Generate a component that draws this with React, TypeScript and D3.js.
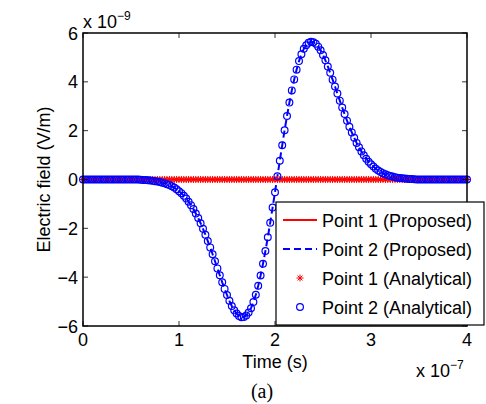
import React, { useEffect, useRef } from 'react';
import * as d3 from 'd3';

// time samples every 0.025 (x 1e-7 s), values in units of 1e-9 V/m
const timeStep = 0.025;
const xTicks = [0, 1, 2, 3, 4];
const yTicks = [-6, -4, -2, 0, 2, 4, 6];

const point2Values = [
  0, 0, 0, 0, 0, 0, 0, 0, 0, 0, 0, 0, 0, 0, 0, 0, 0, 0, 0, 0, 0, 0, 0, 0,
  -0.01, -0.02, -0.02, -0.03, -0.04, -0.05, -0.07, -0.08, -0.10, -0.13,
  -0.15, -0.19, -0.23, -0.28, -0.33, -0.40, -0.48, -0.56, -0.67, -0.78,
  -0.91, -1.05, -1.21, -1.39, -1.58, -1.79, -2.02, -2.26, -2.52, -2.78,
  -3.06, -3.35, -3.64, -3.92, -4.21, -4.48, -4.73, -4.97, -5.18, -5.36,
  -5.49, -5.59, -5.64, -5.63, -5.57, -5.45, -5.27, -5.02, -4.72, -4.35,
  -3.93, -3.45, -2.93, -2.37, -1.77, -1.15, -0.52, 0.13, 0.77, 1.40,
  2.02, 2.60, 3.15, 3.65, 4.10, 4.50, 4.85, 5.13, 5.35, 5.50,
  5.60, 5.64, 5.62, 5.56, 5.44, 5.29, 5.10, 4.88, 4.63, 4.37,
  4.09, 3.81, 3.52, 3.23, 2.95, 2.68, 2.41, 2.16, 1.93, 1.71,
  1.50, 1.32, 1.15, 0.99, 0.85, 0.73, 0.62, 0.53, 0.44, 0.37,
  0.31, 0.26, 0.21, 0.17, 0.14, 0.12, 0.09, 0.07, 0.06, 0.05,
  0.04, 0.03, 0.02, 0.02, 0.01,
  0, 0, 0, 0, 0, 0, 0, 0, 0, 0, 0, 0, 0, 0, 0, 0, 0, 0, 0, 0, 0, 0,
];

const point1Values = [
  0, 0, 0, 0, 0, 0, 0, 0, 0, 0, 0, 0, 0, 0, 0, 0, 0, 0, 0, 0, 0, 0, 0,
  0, 0, 0, 0, 0, 0, 0, 0, 0, 0, 0, 0, 0, 0, 0, 0, 0, 0, 0, 0, 0, 0, 0,
  0, 0, 0, 0, 0, 0, 0, 0, 0, 0, 0, 0, 0, 0, 0, 0, 0, 0, 0, 0, 0, 0, 0,
  0, 0, 0, 0, 0, 0, 0, 0, 0, 0, 0, 0, 0, 0, 0, 0, 0, 0, 0, 0, 0, 0, 0,
  0, 0, 0, 0, 0, 0, 0, 0, 0, 0, 0, 0, 0, 0, 0, 0, 0, 0, 0, 0, 0, 0, 0,
  0, 0, 0, 0, 0, 0, 0, 0, 0, 0, 0, 0, 0, 0, 0, 0, 0, 0, 0, 0, 0, 0, 0,
  0, 0, 0, 0, 0, 0, 0, 0, 0, 0, 0, 0, 0, 0, 0, 0, 0, 0, 0, 0, 0, 0, 0,
];

const legendLabels = ['Point 1 (Proposed)', 'Point 2 (Proposed)', 'Point 1 (Analytical)', 'Point 2 (Analytical)'];

const FONT = '"Liberation Sans", Arial, Helvetica, sans-serif';
const FS = 18;

export default function App() {
  const ref = useRef<SVGSVGElement>(null);

  useEffect(() => {
    const width = 486;
    const height = 404;
    const m = { left: 83, right: 19, top: 33, bottom: 78 };

    const svg = d3.select(ref.current)
      .attr('width', width)
      .attr('height', height);
    svg.selectAll('*').remove();

    const x = d3.scaleLinear().domain([0, 4]).range([m.left, width - m.right]);
    const y = d3.scaleLinear().domain([-6, 6]).range([height - m.bottom, m.top]);

    const p1 = point1Values.map((v, i) => [i * timeStep, v] as [number, number]);
    const p2 = point2Values.map((v, i) => [i * timeStep, v] as [number, number]);

    const line = d3.line<[number, number]>().x(d => x(d[0])).y(d => y(d[1]));

    const plot = svg.append('g');

    // proposed curves
    plot.append('path').datum(p1)
      .attr('d', line).attr('fill', 'none').attr('stroke', '#ff0000').attr('stroke-width', 2);
    plot.append('path').datum(p2)
      .attr('d', line).attr('fill', 'none').attr('stroke', '#0000ff').attr('stroke-width', 2)
      .attr('stroke-dasharray', '7,4');

    // analytical markers
    const star = (r: number) =>
      `M${-r},0L${r},0M0,${-r}L0,${r}M${-r * 0.7},${-r * 0.7}L${r * 0.7},${r * 0.7}M${-r * 0.7},${r * 0.7}L${r * 0.7},${-r * 0.7}`;
    plot.append('g').selectAll('path').data(p1).enter().append('path')
      .attr('transform', d => `translate(${x(d[0])},${y(d[1])})`)
      .attr('d', star(3.5)).attr('stroke', '#ff0000').attr('stroke-width', 1).attr('fill', 'none');
    plot.append('g').selectAll('circle').data(p2).enter().append('circle')
      .attr('cx', d => x(d[0])).attr('cy', d => y(d[1])).attr('r', 3.4)
      .attr('fill', 'none').attr('stroke', '#0000ff').attr('stroke-width', 1.2);

    // axes box and ticks
    const [x0, x1] = x.range();
    const [y0, y1] = [y(6), y(-6)];
    const axes = svg.append('g');
    axes.append('rect')
      .attr('x', x0).attr('y', y0).attr('width', x1 - x0).attr('height', y1 - y0)
      .attr('fill', 'none').attr('stroke', '#000').attr('stroke-width', 1.5);
    const tl = 5;
    xTicks.forEach(t => {
      axes.append('line').attr('x1', x(t)).attr('x2', x(t)).attr('y1', y1).attr('y2', y1 - tl)
        .attr('stroke', '#000').attr('stroke-width', 0.8);
      axes.append('line').attr('x1', x(t)).attr('x2', x(t)).attr('y1', y0).attr('y2', y0 + tl)
        .attr('stroke', '#000').attr('stroke-width', 0.8);
      axes.append('text').attr('x', x(t)).attr('y', y1 + 20)
        .attr('text-anchor', 'middle').attr('font-family', FONT).attr('font-size', FS)
        .text(String(t));
    });
    yTicks.forEach(t => {
      axes.append('line').attr('x1', x0).attr('x2', x0 + tl).attr('y1', y(t)).attr('y2', y(t))
        .attr('stroke', '#000').attr('stroke-width', 0.8);
      axes.append('line').attr('x1', x1).attr('x2', x1 - tl).attr('y1', y(t)).attr('y2', y(t))
        .attr('stroke', '#000').attr('stroke-width', 0.8);
      axes.append('text').attr('x', x0 - 5).attr('y', y(t) + 6.5)
        .attr('text-anchor', 'end').attr('font-family', FONT).attr('font-size', FS)
        .text(t < 0 ? `\u2212${-t}` : String(t));
    });

    // exponent labels
    const expY = axes.append('text').attr('x', x0).attr('y', 28)
      .attr('font-family', FONT).attr('font-size', FS);
    expY.append('tspan').text('x 10');
    expY.append('tspan').attr('font-size', 12).attr('dy', -8).text('\u22129');

    const expX = axes.append('text').attr('x', 416).attr('y', 377)
      .attr('font-family', FONT).attr('font-size', FS);
    expX.append('tspan').text('x 10');
    expX.append('tspan').attr('font-size', 12).attr('dy', -8).text('\u22127');

    axes.append('text').attr('x', (x0 + x1) / 2).attr('y', 368)
      .attr('text-anchor', 'middle').attr('font-family', FONT).attr('font-size', FS)
      .text('Time (s)');
    axes.append('text')
      .attr('transform', `translate(50,${(y0 + y1) / 2}) rotate(-90)`)
      .attr('text-anchor', 'middle').attr('font-family', FONT).attr('font-size', FS)
      .text('Electric field (V/m)');

    svg.append('text').attr('x', 262).attr('y', 398)
      .attr('text-anchor', 'middle').attr('font-family', '"Liberation Serif", "Times New Roman", serif')
      .attr('font-size', 20).text('(a)');

    // legend
    const lg = svg.append('g').attr('transform', 'translate(276,202)');
    lg.append('rect').attr('width', 208).attr('height', 123)
      .attr('fill', '#fff').attr('stroke', '#000').attr('stroke-width', 1.2);
    legendLabels.forEach((label, i) => {
      const cy = 18 + i * 29;
      const row = lg.append('g').attr('transform', `translate(0,${cy})`);
      if (i === 0) {
        row.append('line').attr('x1', 7).attr('x2', 41).attr('stroke', '#ff0000').attr('stroke-width', 2);
      } else if (i === 1) {
        row.append('line').attr('x1', 7).attr('x2', 41).attr('stroke', '#0000ff').attr('stroke-width', 2)
          .attr('stroke-dasharray', '7,4');
      } else if (i === 2) {
        row.append('path').attr('transform', 'translate(24,0)').attr('d', star(3.5))
          .attr('stroke', '#ff0000').attr('stroke-width', 1).attr('fill', 'none');
      } else {
        row.append('circle').attr('cx', 24).attr('r', 3.4)
          .attr('fill', 'none').attr('stroke', '#0000ff').attr('stroke-width', 1.2);
      }
      row.append('text').attr('x', 46).attr('y', 6.5)
        .attr('font-family', FONT).attr('font-size', FS).text(label);
    });
  }, []);

  return <svg ref={ref} style={{ position: 'absolute', left: 0, top: 0 }}></svg>;
}
